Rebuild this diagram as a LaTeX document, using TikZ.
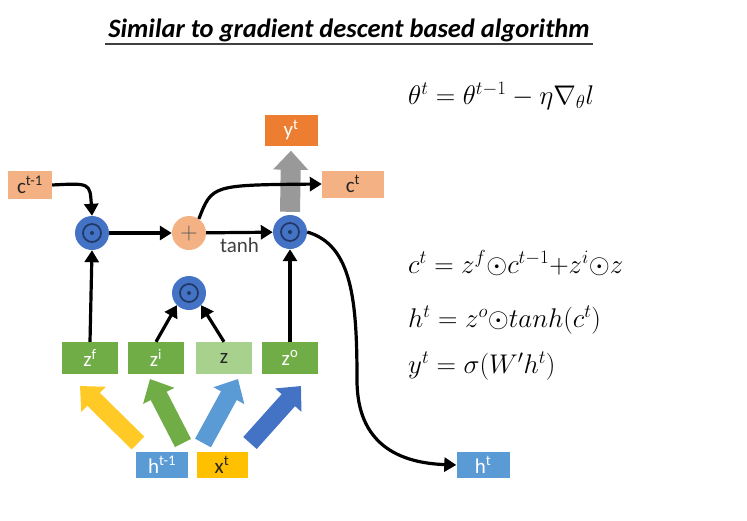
\documentclass[tikz,border=0pt]{standalone}
\usepackage{fix-cm}
\usepackage{fontspec}
\setmainfont{Carlito}
\usetikzlibrary{arrows.meta}

\definecolor{cellpink}{HTML}{F4B183}
\definecolor{outorange}{HTML}{ED7D31}
\definecolor{gategreen}{HTML}{70AD47}
\definecolor{palegreen}{HTML}{A9D18E}
\definecolor{inblue}{HTML}{5B9BD5}
\definecolor{gateblue}{HTML}{4472C4}
\definecolor{ringnavy}{HTML}{1F3864}
\definecolor{ingold}{HTML}{FFC000}

\begin{document}
\begin{tikzpicture}[x=1pt, y=-1pt]
        \tikzset{
            labelfont/.style={font=\fontsize{21}{24}\selectfont},
            valbox/.style={
                labelfont,
                minimum width=54pt,
                minimum height=30pt,
                inner sep=0pt,
                text=white
            },
            prodgate/.style={
                circle,
                fill=gateblue,
                minimum size=34pt,
                inner sep=0pt,
                path picture={
                    \draw[ringnavy, line width=1.7pt]
                        (path picture bounding box.center) circle (9pt);
                    \fill[ringnavy] (path picture bounding box.center) circle (2pt);
                }
            },
            sumgate/.style={
                circle,
                fill=cellpink,
                minimum size=34pt,
                inner sep=0pt,
                text=black!65,
                font=\fontsize{24}{24}\selectfont
            },
            flow/.style={
                draw=black,
                line width=3.2pt,
                -{Triangle[length=12pt, width=14pt]}
            },
            fatarrow/.style={
                line width=18pt,
                -{Triangle[length=19pt, width=34pt]}
            },
            eqn/.style={
                anchor=base west,
                inner sep=0pt,
                font=\fontsize{27}{32}\selectfont
            }
        }

        \useasboundingbox (0,0) rectangle (747,520);

        \node[font=\fontsize{26.5}{30}\selectfont\bfseries\itshape, anchor=base]
            (title) at (349,37) {Similar to gradient descent based algorithm};
        \draw[black!75, line width=1.3pt]
            ([yshift=-7pt]title.base west) -- ([yshift=-7pt]title.base east);

        \node[valbox, fill=cellpink, text=black!85, minimum width=44pt, minimum height=28pt]
            (cprev) at (30,185) {c\textsuperscript{t-1}};
        \node[valbox, fill=outorange, minimum width=53pt, minimum height=31pt]
            (yt) at (291,130) {y\textsuperscript{t}};
        \node[valbox, fill=cellpink, text=black!85, minimum width=62pt, minimum height=27pt]
            (ct) at (353,184) {c\textsuperscript{t}};

        \node[prodgate] (prod1) at (92,233) {};
        \node[sumgate] (sum) at (189,233) {$+$};
        \node[prodgate] (prod3) at (290,232) {};
        \node[prodgate] (prod2) at (189,293) {};

        \node[valbox, fill=gategreen, minimum width=56pt, minimum height=32pt]
            (zf) at (90,358) {z\textsuperscript{f}};
        \node[valbox, fill=gategreen, minimum width=56pt, minimum height=32pt]
            (zi) at (156,358) {z\textsuperscript{i}};
        \node[valbox, fill=palegreen, text=black!85, minimum width=56pt, minimum height=32pt]
            (zz) at (224,358) {z};
        \node[valbox, fill=gategreen, minimum width=56pt, minimum height=32pt]
            (zo) at (290,358) {z\textsuperscript{o}};

        \node[valbox, fill=inblue, minimum width=52pt, minimum height=26pt]
            (hprev) at (162,465) {h\textsuperscript{t-1}};
        \node[valbox, fill=ingold, text=black!85, minimum width=51pt, minimum height=26pt]
            (xt) at (222,465) {x\textsuperscript{t}};
        \node[valbox, fill=inblue, minimum width=53pt, minimum height=26pt]
            (ht) at (483,465) {h\textsuperscript{t}};

        \draw[fatarrow, black!40, line width=20pt, shorten <=3pt, shorten >=5pt]
            (prod3.north) -- (yt.south);

        \coordinate (tailf) at (138,443);
        \coordinate (tipf) at (80,386);
        \coordinate (taili) at (183,443);
        \coordinate (tipi) at (150,379);
        \coordinate (tailz) at (203,443);
        \coordinate (tipz) at (238,379);
        \coordinate (tailo) at (250,443);
        \coordinate (tipo) at (301,386);
        \draw[fatarrow, ingold!85!white] (tailf) -- (tipf);
        \draw[fatarrow, gategreen] (taili) -- (tipi);
        \draw[fatarrow, inblue] (tailz) -- (tipz);
        \draw[fatarrow, gateblue] (tailo) -- (tipo);

        \draw[flow] (cprev.east) .. controls (90,183) .. (prod1.north);
        \draw[flow] (prod1) -- (sum);
        \draw[flow] (sum) -- node[below, labelfont, text=black!75, yshift=0pt] {tanh} (prod3);
        \draw[flow] (sum.55) .. controls (212,185) .. (ct.west);
        \draw[flow] (zf.north) -- (prod1.south);
        \draw[flow] (zi.north) -- (prod2.225);
        \draw[flow] (zz.north) -- (prod2.315);
        \draw[flow] (zo.north) -- (prod3.south);
        \draw[flow] (prod3.east) .. controls (352,245) and (357,300) .. (357,380)
            .. controls (357,445) and (400,463) .. (ht.west);

        \node[eqn] (eqtheta) at (408,104) {$\theta^{t} = \theta^{t-1} - \eta\nabla_{\theta} l$};
        \node[eqn] (eqcell) at (408,273) {$c^{t} = z^{f}{\odot}c^{t-1}{+}z^{i}{\odot}z$};
        \node[eqn] (eqhid) at (408,327) {$h^{t} = z^{o}{\odot}tanh(c^{t})$};
        \node[eqn] (eqout) at (408,373) {$y^{t} = \sigma(W'h^{t})$};
    \end{tikzpicture}
\end{document}
